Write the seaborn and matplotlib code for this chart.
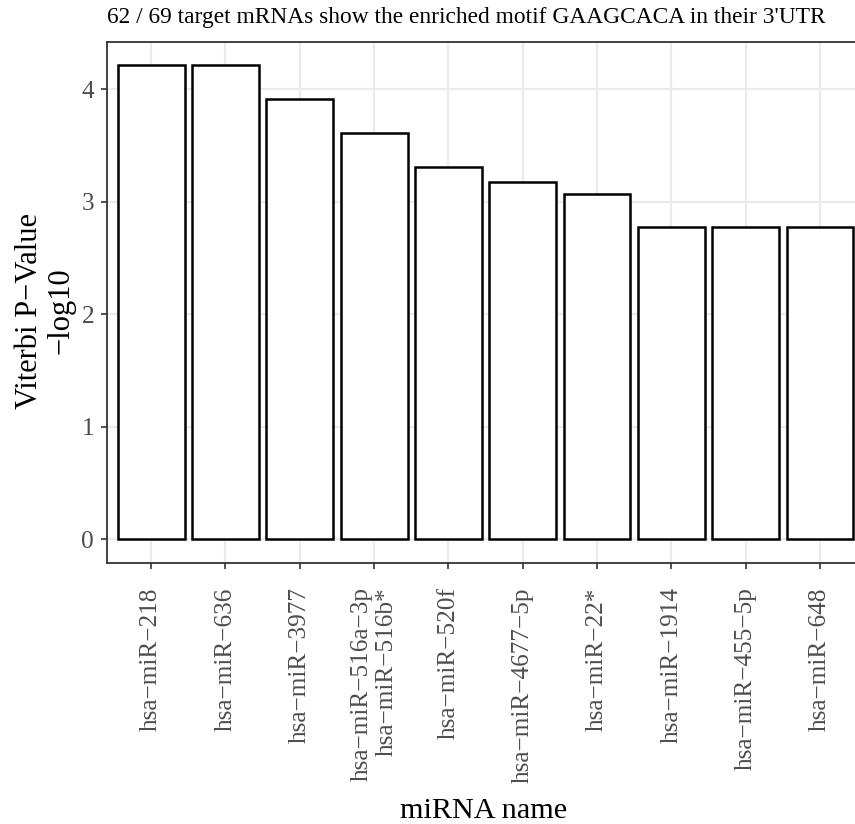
import matplotlib
matplotlib.use("Agg")
import matplotlib.pyplot as plt
import seaborn as sns
import pandas as pd

mirna_names = [
    "hsa\u2212miR\u2212218",
    "hsa\u2212miR\u2212636",
    "hsa\u2212miR\u22123977",
    "hsa\u2212miR\u2212516a\u22123p\nhsa\u2212miR\u2212516b*",
    "hsa\u2212miR\u2212520f",
    "hsa\u2212miR\u22124677\u22125p",
    "hsa\u2212miR\u221222*",
    "hsa\u2212miR\u22121914",
    "hsa\u2212miR\u2212455\u22125p",
    "hsa\u2212miR\u2212648",
]
neg_log10_p = [4.21, 4.21, 3.91, 3.61, 3.31, 3.17, 3.07, 2.77, 2.77, 2.77]
y_ticks = [0, 1, 2, 3, 4]

title_text = "62 / 69 target mRNAs show the enriched motif GAAGCACA in their 3'UTR"
x_title = "miRNA name"
y_title = "Viterbi P\u2212Value\n\u2212log10"

sns.set_theme(style="white")
plt.rcParams["font.family"] = ["Liberation Serif", "DejaVu Serif"]

df = pd.DataFrame({"mirna": mirna_names, "value": neg_log10_p})

W, H = 855, 824
fig = plt.figure(figsize=(W / 100, H / 100), dpi=100)
fig.patch.set_facecolor("white")

left, right, top, bottom = 106.5, 864.6, 41.7, 562.7
ax = fig.add_axes([left / W, 1 - bottom / H, (right - left) / W, (bottom - top) / H])
ax.set_facecolor("white")

sns.barplot(data=df, x="mirna", y="value", order=mirna_names, color="white",
            saturation=1, edgecolor="black", linewidth=1.8, width=0.9, ax=ax,
            zorder=3)

ymax = max(neg_log10_p)
ax.set_xlim(-0.6, len(mirna_names) - 0.4)
ax.set_ylim(-0.05 * ymax, ymax * 1.05)
ax.set_yticks(y_ticks)
ax.set_yticklabels([str(v) for v in y_ticks])
ax.set_xticks(range(len(mirna_names)))
ax.set_xticklabels(mirna_names, rotation=90, ha="center", va="top",
                   multialignment="right")

ax.grid(True, color="#EBEBEB", linewidth=1.6, zorder=0)
ax.set_axisbelow(True)
for s in ax.spines.values():
    s.set_color("#333333")
    s.set_linewidth(1.3)
    s.set_visible(True)

ax.tick_params(axis="both", which="major", length=4.1, width=1.2,
               color="#333333", labelcolor="#4D4D4D", labelsize=18.2)
ax.tick_params(axis="y", pad=4.8, left=True)
ax.tick_params(axis="x", pad=13.5, bottom=True)
ax.set_xlabel("")
ax.set_ylabel("")

fig.text(106.7 / W, 1 - 23 / H, title_text, ha="left", va="baseline",
         fontsize=16.8, color="black")
fig.text(484 / W, 1 - 818 / H, x_title, ha="center", va="baseline",
         fontsize=21.8, color="black")
fig.text(45 / W, 1 - 311 / H, y_title, ha="center", va="center",
         rotation=90, multialignment="center", fontsize=22, color="black",
         linespacing=1.1)

fig.savefig("out.png", dpi=100)
